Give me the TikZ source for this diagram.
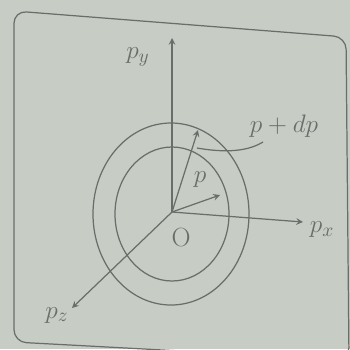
\documentclass[tikz,border=0pt]{standalone}
\usepackage{amsmath, amssymb}
\usepackage[dvipsnames]{xcolor}
\usetikzlibrary{arrows, shapes}
\definecolor{paper}{RGB}{199,204,197}
\definecolor{ink}{RGB}{105,110,106}
\tikzstyle{arrow} = [ink, line width=0.7pt, ->, >=stealth]
\tikzstyle{shell} = [ink, line width=0.7pt]
\tikzstyle{lbl} = [text=ink, inner sep=1pt, font=\fontsize{15}{18}\selectfont]

\begin{document}
\begin{tikzpicture}[x=0.02cm, y=-0.02cm]

\fill[paper] (0,0) rectangle (350,349);
\useasboundingbox (0,0) rectangle (350,349);
\draw[shell, rounded corners=7pt] (14,11) -- (346,37) -- (349,360) -- (14,342) -- cycle;

\coordinate (O) at (172,212);
\coordinate (py) at (172,38);
\coordinate (px) at (303,222);
\coordinate (pz) at (72,308);
\coordinate (p) at (220,195);
\coordinate (pdp) at (198,130);

% the two spheres
\draw[shell] (172,214) ellipse [x radius=57, y radius=67];
\draw[shell] (171,214) ellipse [x radius=78, y radius=91];

% axes
\draw [arrow] (O) -- (py);
\draw [arrow] (O) -- (px);
\draw [arrow] (O) -- (pz);

% momentum vectors
\draw [arrow] (O) -- (p);
\draw [arrow] (O) -- (pdp);

\node[lbl] at (138,57) (lpy) {$p_y$};
\node[lbl] at (322,230) (lpx) {$p_x$};
\node[lbl] at (57,315) (lpz) {$p_z$};
\node[lbl] at (181,237) (lO) {O};
\node[lbl] at (200,180) (lp) {$p$};
\node[lbl] at (284,126) (lpdp) {$p+dp$};

\coordinate (lead) at (197,148);
\draw[shell] (263,142) .. controls (245,153) and (220,152) .. (lead);

\end{tikzpicture}
\end{document}
